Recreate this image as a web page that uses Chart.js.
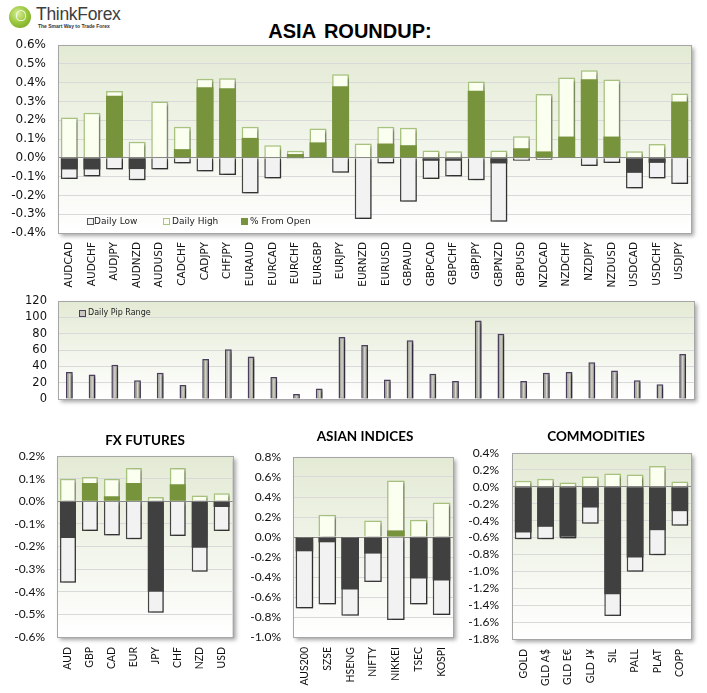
<!DOCTYPE html>
<html>
<head>
<meta charset="utf-8">
<script src="https://cdn.jsdelivr.net/npm/chart.js@4.4.1/dist/chart.umd.min.js"></script>
<style>
  body { margin: 0; background: #fff; }
  #page { position: relative; width: 707px; height: 693px; overflow: hidden; font-family: "Liberation Sans", Arial, sans-serif; }
  #page canvas, .abs { position: absolute; }
  .logo-ball { left: 9px; top: 6px; width: 22px; height: 22px; border-radius: 50%;
    background: radial-gradient(circle at 40% 35%, #d8ef9a 0%, #9cc93f 45%, #6f9a1f 100%); }
  .logo-bulb { left: 16px; top: 10px; width: 8px; height: 9px; border-radius: 50% 50% 40% 40%;
    border: 1.5px solid rgba(255,255,255,0.8); }
  .logo-txt { left: 36px; top: 4px; font-size: 17.5px; color: #3d3d3d; letter-spacing: -0.3px; }
  .logo-tag { left: 38px; top: 23px; font-size: 5px; font-weight: bold; color: #333; }
  .main-title { left: 0; width: 700px; top: 20px; text-align: center; font-size: 20px; font-weight: bold; color: #000; word-spacing: 3px; }
  .sub-title { font-family: Lato, sans-serif; font-size: 13.5px; font-weight: bold; color: #000; text-align: center; width: 200px; }
  .lg { font-family: "DejaVu Sans", sans-serif; font-size: 9px; color: #222; white-space: nowrap; }
  .sw { width: 5px; height: 5px; border: 1px solid; }
</style>
</head>
<body>
<div id="page">
  <div class="abs logo-ball"></div>
  <div class="abs logo-bulb"></div>
  <div class="abs logo-txt">ThinkForex</div>
  <div class="abs logo-tag">The Smart Way to Trade Forex</div>
  <div class="abs main-title">ASIA ROUNDUP:</div>

  <canvas id="cTop" width="707" height="259" style="left:0;top:36px"></canvas>
  <canvas id="cPip" width="707" height="114" style="left:0;top:293px"></canvas>
  <canvas id="cFut" width="245" height="246" style="left:0;top:440px"></canvas>
  <canvas id="cIdx" width="225" height="246" style="left:240px;top:440px"></canvas>
  <canvas id="cCom" width="247" height="246" style="left:460px;top:440px"></canvas>

  <div class="abs sw" style="left:87px;top:218px;background:#f2f2f2;border-color:#555"></div>
  <div class="abs lg" style="left:94px;top:216px">Daily Low</div>
  <div class="abs sw" style="left:163px;top:218px;background:#fbffef;border-color:#a9c47f"></div>
  <div class="abs lg" style="left:172px;top:216px">Daily High</div>
  <div class="abs sw" style="left:241px;top:218px;background:#77933c;border-color:#77933c"></div>
  <div class="abs lg" style="left:250px;top:216px">% From Open</div>

  <div class="abs sw" style="left:79px;top:310px;width:5px;height:5px;background:#c8c8c0;border:1.5px solid #4b3f5e"></div>
  <div class="abs lg" style="left:88px;top:308px;font-size:8px">Daily Pip Range</div>

  <div class="abs sub-title" style="left:45px;top:432px">FX FUTURES</div>
  <div class="abs sub-title" style="left:265px;top:428px">ASIAN INDICES</div>
  <div class="abs sub-title" style="left:496px;top:428px">COMMODITIES</div>
</div>

<script>
// DATA
const pairs = ["AUDCAD", "AUDCHF", "AUDJPY", "AUDNZD", "AUDUSD", "CADCHF", "CADJPY", "CHFJPY",
  "EURAUD", "EURCAD", "EURCHF", "EURGBP", "EURJPY", "EURNZD", "EURUSD", "GBPAUD", "GBPCAD",
  "GBPCHF", "GBPJPY", "GBPNZD", "GBPUSD", "NZDCAD", "NZDCHF", "NZDJPY", "NZDUSD", "USDCAD",
  "USDCHF", "USDJPY"];
const pairHigh = [0.215, 0.24, 0.355, 0.085, 0.30, 0.165, 0.42, 0.423, 0.165, 0.067, 0.037, 0.156,
  0.445, 0.076, 0.165, 0.16, 0.039, 0.035, 0.406, 0.039, 0.115, 0.34, 0.427, 0.466, 0.417, 0.035,
  0.073, 0.342];
const pairOpen = [-0.062, -0.062, 0.33, -0.06, 0, 0.046, 0.375, 0.37, 0.106, 0, 0.02, 0.082,
  0.38, 0, 0.076, 0.067, -0.016, -0.016, 0.356, -0.03, 0.051, 0.034, 0.113, 0.418, 0.113, -0.08,
  -0.027, 0.30];
const pairLow = [-0.113, -0.10, -0.062, -0.12, -0.062, -0.03, -0.073, -0.092, -0.19, -0.11, -0.005,
  -0.002, -0.08, -0.326, -0.03, -0.234, -0.113, -0.10, -0.119, -0.34, -0.016, -0.01, -0.002,
  -0.043, -0.028, -0.163, -0.11, -0.14];
const pipRange = [33, 30, 42, 23, 32, 17, 49, 61, 52, 27, 6, 13, 76, 66, 24, 72, 31, 22, 96, 80,
  22, 32, 33, 45, 35, 23, 18, 55];

const futLabels = ["AUD", "GBP", "CAD", "EUR", "JPY", "CHF", "NZD", "USD"];
const futHigh = [0.10, 0.107, 0.10, 0.147, 0.019, 0.147, 0.025, 0.035];
const futOpen = [-0.162, 0.081, 0.022, 0.081, -0.40, 0.075, -0.206, -0.025];
const futLow = [-0.36, -0.132, -0.151, -0.168, -0.493, -0.154, -0.312, -0.132];

const idxLabels = ["AUS200", "SZSE", "HSENG", "NIFTY", "NIKKEI", "TSEC", "KOSPI"];
const idxHigh = [0, 0.223, 0, 0.166, 0.565, 0.173, 0.345];
const idxOpen = [-0.143, -0.053, -0.525, -0.166, 0.066, -0.415, -0.435];
const idxLow = [-0.714, -0.674, -0.787, -0.449, -0.83, -0.674, -0.78];

const comLabels = ["GOLD", "GLD A$", "GLD E€", "GLD J¥", "SIL", "PALL", "PLAT", "COPP"];
const comHigh = [0.071, 0.095, 0.051, 0.122, 0.158, 0.146, 0.245, 0.063];
const comOpen = [-0.54, -0.473, -0.59, -0.245, -1.27, -0.836, -0.513, -0.288];
const comLow = [-0.619, -0.619, -0.61, -0.438, -1.527, -1.006, -0.809, -0.46];

// PLUGINS
const plotBg = {
  id: "plotBg",
  beforeDraw(chart) {
    const { ctx, chartArea: a } = chart;
    ctx.save();
    const g = ctx.createLinearGradient(0, a.top, 0, a.bottom);
    g.addColorStop(0, "#e3ead4");
    g.addColorStop(1, "#ffffff");
    ctx.shadowColor = "rgba(0,0,0,0.35)";
    ctx.shadowOffsetX = 3;
    ctx.shadowOffsetY = 3;
    ctx.shadowBlur = 4;
    ctx.fillStyle = g;
    ctx.fillRect(a.left, a.top, a.right - a.left, a.bottom - a.top);
    ctx.restore();
  },
  afterDraw(chart) {
    const { ctx, chartArea: a } = chart;
    ctx.save();
    ctx.strokeStyle = "#a6a6a6";
    ctx.lineWidth = 1;
    ctx.strokeRect(Math.round(a.left) + 0.5, Math.round(a.top) + 0.5,
      Math.round(a.right - a.left), Math.round(a.bottom - a.top));
    ctx.restore();
  },
};

const barShadow = {
  id: "barShadow",
  beforeDatasetDraw(chart, args) {
    if (!chart.data.datasets[args.index].shadow) return;
    const ctx = chart.ctx;
    ctx.save();
    ctx.shadowColor = "rgba(0,0,0,0.4)";
    ctx.shadowOffsetX = 2;
    ctx.shadowOffsetY = 2;
    ctx.shadowBlur = 3;
  },
  afterDatasetDraw(chart, args) {
    if (chart.data.datasets[args.index].shadow) chart.ctx.restore();
  },
};

// light stripe down the middle of the pip bars (the "glass" look)
const pipGloss = {
  id: "pipGloss",
  afterDatasetsDraw(chart) {
    const ctx = chart.ctx;
    ctx.save();
    ctx.fillStyle = "rgba(255,255,255,0.55)";
    chart.getDatasetMeta(0).data.forEach((bar) => {
      const h = bar.base - bar.y;
      if (h > 4) ctx.fillRect(bar.x - 0.5, bar.y + 2, 1.2, h - 3);
    });
    ctx.restore();
  },
};

// HELPERS
const pct = (v) => (Math.abs(v) < 1e-9 ? "0.0" : v.toFixed(1)) + "%";
const gridColor = (c) => (Math.abs(c.tick.value) < 1e-9 ? "#8a8a8a" : "#d9d9d9");

// y grid: invisible tick marks give the label gap without padding the chart area
const yGrid = (gap, color) => ({ color, drawTicks: true, tickLength: gap, tickColor: "rgba(0,0,0,0)" });

function rangeChart(id, labels, low, high, open, o) {
  return new Chart(document.getElementById(id), {
    type: "bar",
    data: {
      labels,
      datasets: [
        {
          label: "% From Open", data: open, order: 0,
          backgroundColor: open.map((v) => (v >= 0 ? "#77933c" : "#404040")),
          borderWidth: 0,
        },
        {
          label: "Daily High", data: high, order: 1, shadow: true,
          backgroundColor: "#fbffef", borderColor: "#a9c47f", borderWidth: 1.5,
        },
        {
          label: "Daily Low", data: low, order: 2, shadow: true,
          backgroundColor: "#f2f2f2", borderColor: "#454545", borderWidth: 1.5,
        },
      ],
    },
    options: {
      responsive: false,
      animation: false,
      layout: { padding: o.pad },
      datasets: { bar: { barPercentage: o.barPct, categoryPercentage: 1 } },
      plugins: { legend: { display: false }, tooltip: { enabled: false } },
      scales: {
        x: {
          stacked: true,
          grid: { display: false, drawTicks: false },
          border: { display: false },
          afterFit: (s) => { s.height = o.xH; },
          ticks: {
            minRotation: 90, maxRotation: 90, autoSkip: false, padding: o.xPad,
            color: "#111", font: o.xFont,
          },
        },
        y: {
          min: o.min, max: o.max,
          grid: yGrid(o.yGap, gridColor),
          border: { display: false },
          afterFit: (s) => { s.width = o.yW; },
          ticks: {
            stepSize: o.step, padding: 0, autoSkip: false, color: "#111", font: o.yFont,
            callback: (v) => pct(v),
          },
        },
      },
    },
    plugins: [plotBg, barShadow],
  });
}

// CHARTS
rangeChart("cTop", pairs, pairLow, pairHigh, pairOpen, {
  pad: { top: 9, right: 16, bottom: 0, left: 0 },
  barPct: 0.75, xH: 62, yW: 58, xPad: 9, yGap: 12, min: -0.4, max: 0.6, step: 0.1,
  xFont: { family: "DejaVu Sans", size: 10.5 },
  yFont: { family: "DejaVu Sans", size: 12 },
});

new Chart(document.getElementById("cPip"), {
  type: "bar",
  data: {
    labels: pairs,
    datasets: [{
      label: "Daily Pip Range", data: pipRange, shadow: true,
      backgroundColor: "#a9a99c", borderColor: "#4b3f5e", borderWidth: 1.5,
      barPercentage: 0.3, categoryPercentage: 1,
    }],
  },
  options: {
    responsive: false,
    animation: false,
    layout: { padding: { top: 8, right: 13, bottom: 8, left: 0 } },
    plugins: { legend: { display: false }, tooltip: { enabled: false } },
    scales: {
      x: { display: false },
      y: {
        min: 0, max: 120,
        grid: yGrid(11, "#d9d9d9"),
        border: { display: false },
        afterFit: (s) => { s.width = 58; },
        ticks: { stepSize: 20, padding: 0, autoSkip: false, color: "#111", font: { family: "DejaVu Sans", size: 11.5 } },
      },
    },
  },
  plugins: [plotBg, barShadow, pipGloss],
});

const smallX = { family: "Lato", size: 10.5 };
const smallY = { family: "Lato", size: 12 };

rangeChart("cFut", futLabels, futLow, futHigh, futOpen, {
  pad: { top: 16, right: 12, bottom: 0, left: 0 },
  barPct: 0.73, xH: 49, yW: 57, xPad: 10, yGap: 12, min: -0.6, max: 0.2, step: 0.1,
  xFont: smallX, yFont: smallY,
});

rangeChart("cIdx", idxLabels, idxLow, idxHigh, idxOpen, {
  pad: { top: 17, right: 12, bottom: 0, left: 0 },
  barPct: 0.77, xH: 49, yW: 53, xPad: 10, yGap: 12, min: -1.0, max: 0.8, step: 0.2,
  xFont: smallX, yFont: smallY,
});

rangeChart("cCom", comLabels, comLow, comHigh, comOpen, {
  pad: { top: 13, right: 16, bottom: 0, left: 0 },
  barPct: 0.75, xH: 47, yW: 52, xPad: 10, yGap: 13, min: -1.8, max: 0.4, step: 0.2,
  xFont: smallX, yFont: smallY,
});
</script>
</body>
</html>
